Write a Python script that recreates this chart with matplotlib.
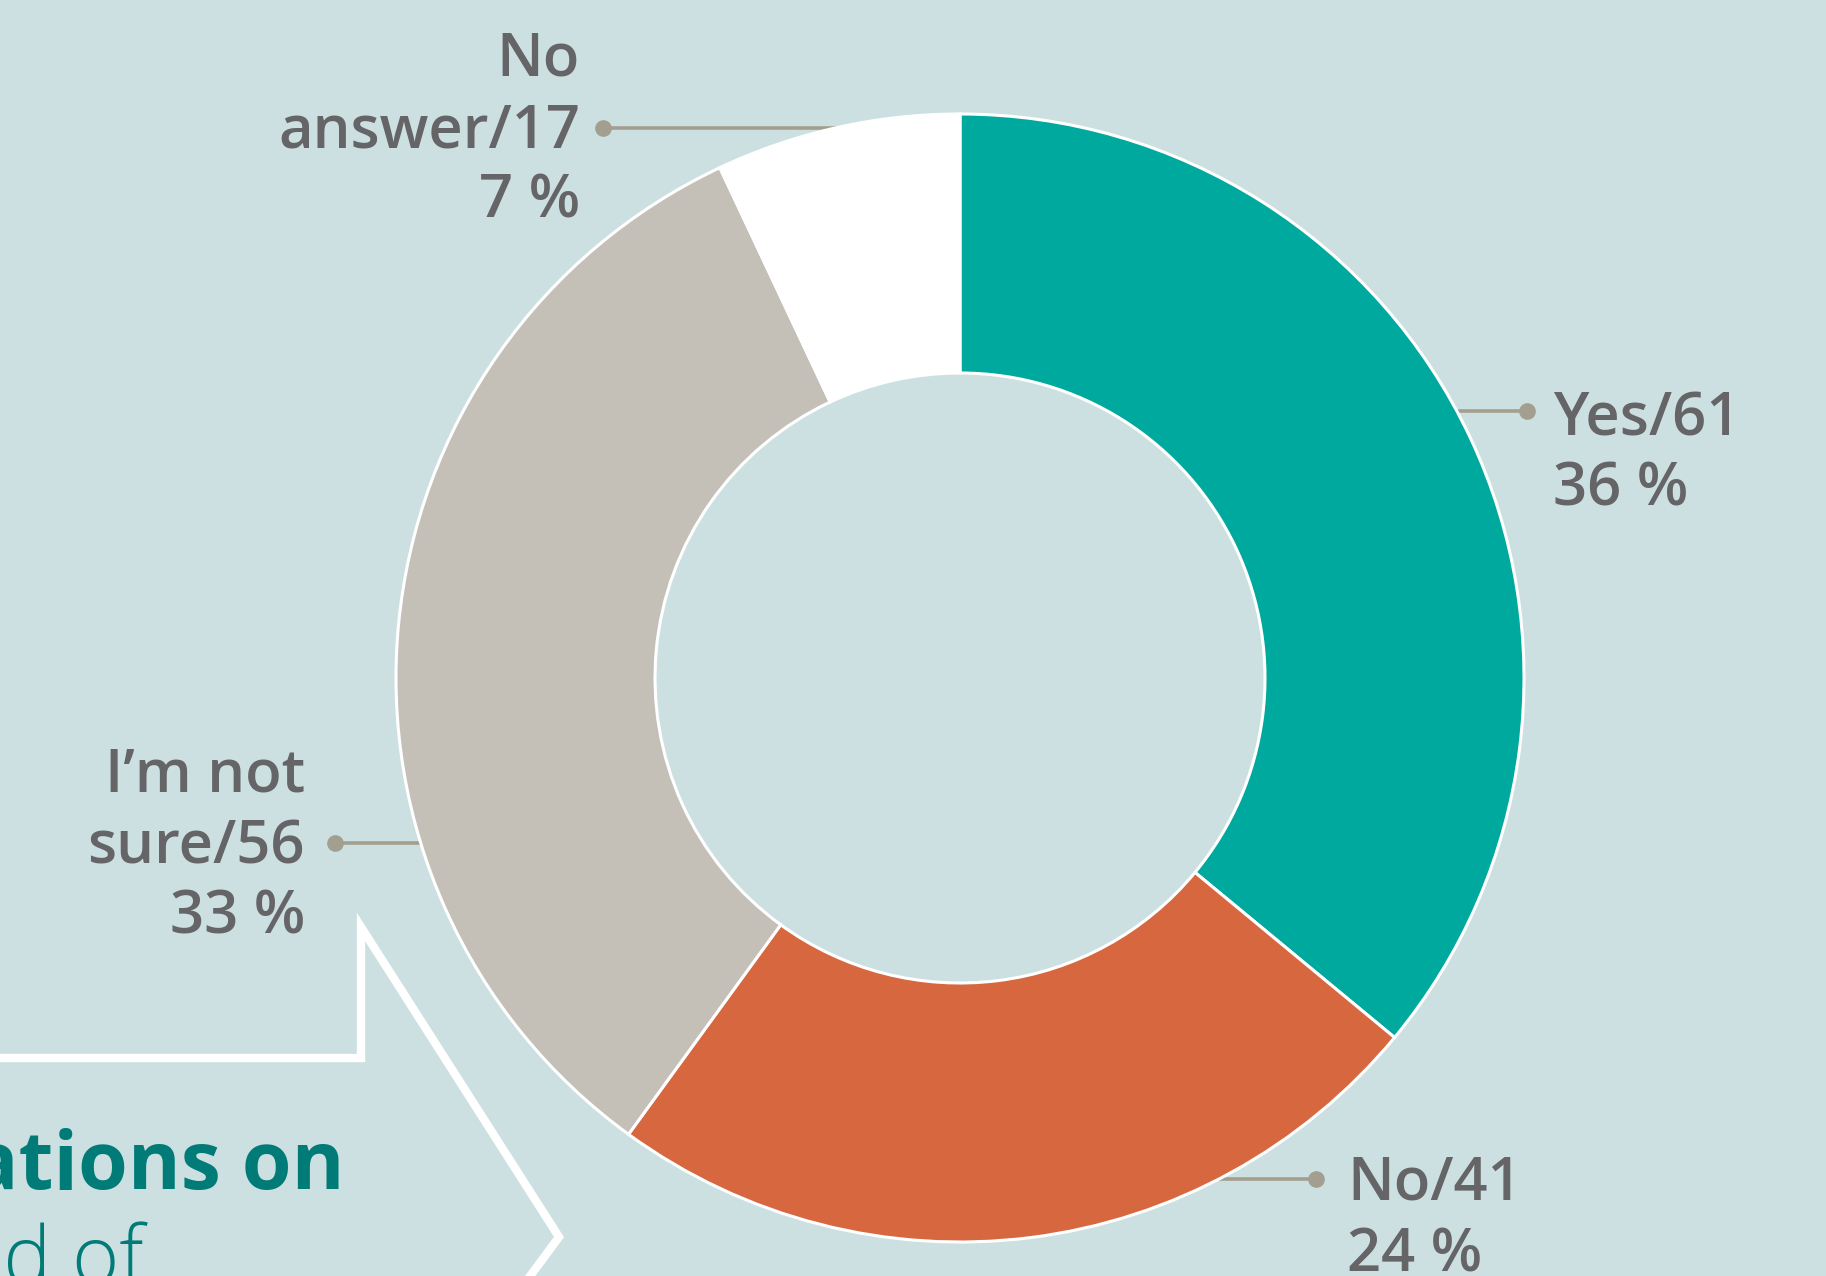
import matplotlib.pyplot as plt
from matplotlib.lines import Line2D

# survey answers
names = [["Yes"], ["No"], ["I’m not", "sure"], ["No", "answer"]]
counts = [61, 41, 56, 17]
shares = [36, 24, 33, 7]
colors = ["#00a99e", "#d6673f", "#c4c0b8", "#ffffff"]

W, H = 1826, 1276
bg = "#cde0e1"
txt_col = "#656467"
lead_col = "#a39f90"


def fy(y):
    # pixel row (from top) -> data y
    return H - y


fig = plt.figure(figsize=(W / 100, H / 100), dpi=100, facecolor=bg)
ax = fig.add_axes([0, 0, 1, 1])
ax.set_facecolor(bg)

cx, cy, R, r = 960, 678, 564, 305
ax.pie(shares, colors=colors, startangle=90, counterclock=False,
       center=(cx, fy(cy)), radius=R,
       wedgeprops=dict(width=R - r, edgecolor="white", linewidth=2.2, zorder=3))

# leader lines: (line start x, dot x, dot y, text x, first baseline, align)
leaders = [
    (1400, 1527, 411, 1553, 435, "left"),
    (1150, 1316, 1179, 1347, 1200, "left"),
    (480, 335, 843, 305, 792, "right"),
    (900, 603, 128, 580, 76, "right"),
]
step = 71
for i, (x0, xd, yd, tx, ty, ha) in enumerate(leaders):
    ax.plot([x0, xd], [fy(yd), fy(yd)], color=lead_col, lw=2.6, zorder=1,
            solid_capstyle="butt")
    ax.plot([xd], [fy(yd)], "o", color=lead_col, ms=11, zorder=1)
    lines = names[i][:-1] + [names[i][-1] + "/" + str(counts[i]), str(shares[i]) + " %"]
    for k, s in enumerate(lines):
        ax.text(tx, fy(ty + k * step), s, ha=ha, va="baseline", fontsize=43,
                fontweight="semibold", color=txt_col,
                family=["Open Sans", "DejaVu Sans"])

# white callout outline in the lower left
ol = Line2D([0, 361, 361, 559, 505], [fy(1058), fy(1058), fy(927), fy(1237), fy(1310)],
            color="white", lw=6, solid_joinstyle="miter", zorder=2)
ax.add_line(ol)

ax.text(344, fy(1189), "ations on", ha="right", va="baseline", fontsize=58,
        fontweight="bold", color="#007b78", family=["Open Sans", "DejaVu Sans"])
ax.text(143, fy(1284), "nd of", ha="right", va="baseline", fontsize=58,
        fontweight="light", color="#007b78", family=["Open Sans", "DejaVu Sans"])

ax.set_xlim(0, W)
ax.set_ylim(0, H)
ax.set_aspect("equal")
ax.axis("off")

fig.savefig("out.png", dpi=100, facecolor=bg)
